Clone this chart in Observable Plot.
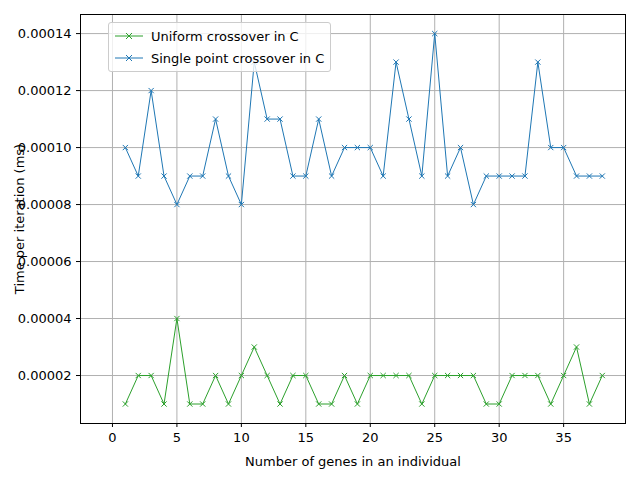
<!DOCTYPE html>
<html>
<head>
<meta charset="utf-8">
<script src="https://cdn.jsdelivr.net/npm/d3@7"></script>
<script src="https://cdn.jsdelivr.net/npm/@observablehq/plot@0.6"></script>
<style>
body{margin:0;font-family:"DejaVu Sans",sans-serif;}
#wrap{position:relative;width:640px;height:480px;}
#legend{position:absolute;left:108px;top:22px;background:rgba(255,255,255,0.8);border:1px solid #ccc;border-radius:3px;padding:2px 6px;font-size:13px;}
#legend div{display:flex;align-items:center;height:22px;}
#legend svg{margin-right:8px;}
</style>
</head>
<body>
<div id="wrap"><div id="chart"></div>
<div id="legend">
<div><svg width="28" height="10"><line x1="0" y1="5" x2="28" y2="5" stroke="#2ca02c"/><path d="M11,2L17,8M17,2L11,8" stroke="#2ca02c"/></svg>Uniform crossover in C</div>
<div><svg width="28" height="10"><line x1="0" y1="5" x2="28" y2="5" stroke="#1f77b4"/><path d="M11,2L17,8M17,2L11,8" stroke="#1f77b4"/></svg>Single point crossover in C</div>
</div></div>
<script>
const genes = d3.range(1, 39);
const uniform = [10,20,20,10,40,10,10,20,10,20,30,20,10,20,20,10,10,20,10,20,20,20,20,10,20,20,20,20,10,10,20,20,20,10,20,30,10,20];
const single = [100,90,120,90,80,90,90,110,90,80,130,110,110,90,90,110,90,100,100,100,90,130,110,90,140,90,100,80,90,90,90,90,130,100,100,90,90,90];

const rows = [];
genes.forEach((g, i) => {
  rows.push({g, v: uniform[i] * 1e-6, s: "Uniform crossover in C"});
  rows.push({g, v: single[i] * 1e-6, s: "Single point crossover in C"});
});
const colors = {"Uniform crossover in C": "#2ca02c", "Single point crossover in C": "#1f77b4"};

const chart = Plot.plot({
  width: 640, height: 480,
  marginLeft: 80, marginRight: 15, marginTop: 14, marginBottom: 57,
  style: {fontFamily: "DejaVu Sans", fontSize: "13px", color: "black"},
  x: {domain: [-2.48, 39.8], ticks: [0,5,10,15,20,25,30,35], label: "Number of genes in an individual", labelArrow: "none", labelAnchor: "center", labelOffset: 42, tickSize: 4},
  y: {domain: [0.00000316, 0.0001467], ticks: [0.00002,0.00004,0.00006,0.00008,0.0001,0.00012,0.00014], tickFormat: d3.format(".5f"), label: "Time per iteration (ms)", labelArrow: "none", labelAnchor: "center", labelOffset: 66, tickSize: 4},
  marks: [
    Plot.gridX([0,5,10,15,20,25,30,35], {stroke: "#b0b0b0", strokeOpacity: 1}),
    Plot.gridY([0.00002,0.00004,0.00006,0.00008,0.0001,0.00012,0.00014], {stroke: "#b0b0b0", strokeOpacity: 1}),
    Plot.frame({stroke: "black"}),
    Plot.line(rows, {x: "g", y: "v", z: "s", stroke: d => colors[d.s], strokeWidth: 1}),
    Plot.dot(rows, {x: "g", y: "v", symbol: "times", r: 2.5, stroke: d => colors[d.s], strokeWidth: 1})
  ]
});
document.getElementById("chart").append(chart);
</script>
</body>
</html>
